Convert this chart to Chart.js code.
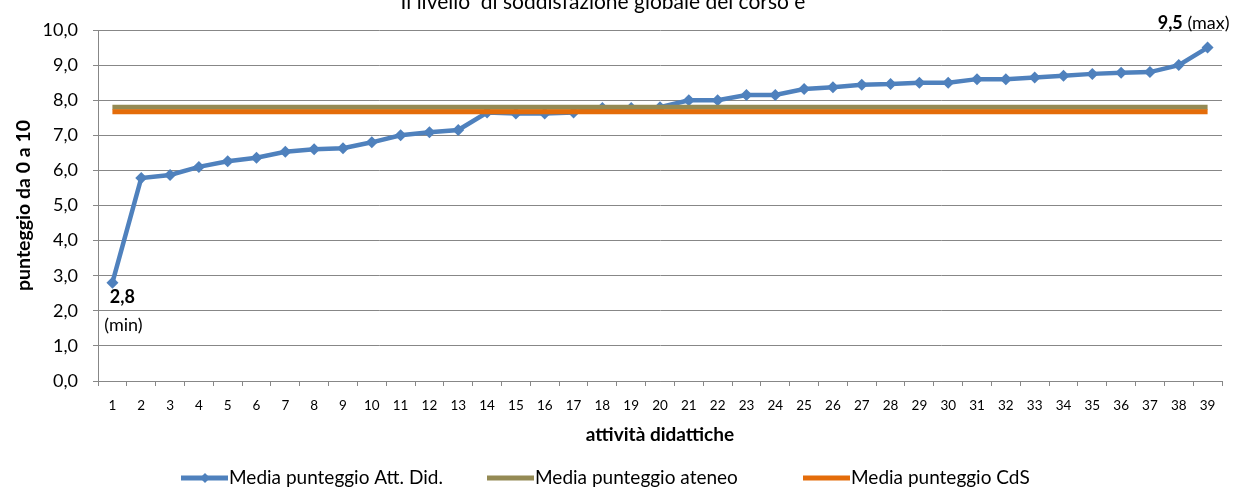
<!DOCTYPE html>
<html>
<head>
<meta charset="utf-8">
<title></title>
<style>
  html, body { margin: 0; padding: 0; background: #fff; }
  #wrap { width: 1234px; height: 497px; }
</style>
</head>
<body>
<div id="wrap">
  <canvas id="myChart"></canvas>
</div>

<script src="https://cdn.jsdelivr.net/npm/chart.js"></script>

<script>
  const attivita = ['1','2','3','4','5','6','7','8','9','10','11','12','13','14','15','16','17','18','19','20',
                    '21','22','23','24','25','26','27','28','29','30','31','32','33','34','35','36','37','38','39'];
  const mediaAttDid = [2.8, 5.78, 5.87, 6.1, 6.26, 6.36, 6.53, 6.6, 6.63, 6.8, 7.0, 7.09, 7.15, 7.65, 7.62, 7.62, 7.65,
                       7.78, 7.78, 7.8, 8.0, 8.0, 8.15, 8.15, 8.32, 8.37, 8.44, 8.46, 8.5, 8.5, 8.6, 8.6, 8.65, 8.7,
                       8.75, 8.78, 8.8, 9.0, 9.5];
  const mediaAteneo = 7.8;   // costante
  const mediaCdS = 7.67;     // costante
  const yTickLabels = ['0,0','1,0','2,0','3,0','4,0','5,0','6,0','7,0','8,0','9,0','10,0'];
  const titolo = 'Il livello  di soddisfazione globale del corso è';
  const legenda = ['Media punteggio Att. Did.', 'Media punteggio ateneo', 'Media punteggio CdS'];

  const BLUE = '#4F81BD', OLIVE = '#948A54', ORANGE = '#E46C0A', GRID = '#878787';
  const FONT = 'Lato, Calibri, sans-serif';

  const virgola = v => v.toFixed(1).replace('.', ',');

  // titolo (tagliato in alto come nell'originale), etichette min/max, legenda
  const extras = {
    id: 'extras',
    afterDraw(chart) {
      const c = chart.ctx;
      c.save();
      c.fillStyle = '#000';
      c.font = '21px ' + FONT;
      c.textAlign = 'center';
      c.textBaseline = 'alphabetic';
      c.fillText(titolo, 603, 9);

      const pts = chart.getDatasetMeta(0).data;
      const vals = chart.data.datasets[0].data;
      const iMin = vals.indexOf(Math.min(...vals));
      const iMax = vals.indexOf(Math.max(...vals));
      const pMin = pts[iMin], pMax = pts[iMax];

      c.textBaseline = 'middle';
      c.font = 'bold 18px ' + FONT;
      c.fillText(virgola(vals[iMin]), pMin.x + 10, pMin.y + 14);
      c.font = '18px ' + FONT;
      c.fillText('(min)', pMin.x + 11, pMin.y + 42);

      c.textAlign = 'left';
      c.font = 'bold 18px ' + FONT;
      const maxTxt = virgola(vals[iMax]);
      const wMax = c.measureText(maxTxt).width;
      c.font = '18px ' + FONT;
      const wTag = c.measureText(' (max)').width;
      const x0 = pMax.x + 22 - wMax - wTag;
      c.font = 'bold 18px ' + FONT;
      c.fillText(maxTxt, x0, pMax.y - 24);
      c.font = '18px ' + FONT;
      c.fillText(' (max)', x0 + wMax, pMax.y - 24);

      // legenda
      const xs = [181, 487, 803];
      const y = 478;
      c.font = '19px ' + FONT;
      c.textAlign = 'left';
      chart.data.datasets.forEach((ds, i) => {
        c.strokeStyle = ds.borderColor;
        c.lineWidth = 5;
        c.beginPath();
        c.moveTo(xs[i], y);
        c.lineTo(xs[i] + 47, y);
        c.stroke();
        if (i === 0) {
          c.fillStyle = ds.borderColor;
          c.beginPath();
          c.moveTo(xs[i] + 24, y - 5);
          c.lineTo(xs[i] + 29, y);
          c.lineTo(xs[i] + 24, y + 5);
          c.lineTo(xs[i] + 19, y);
          c.closePath();
          c.fill();
        }
        c.fillStyle = '#000';
        c.fillText(ds.label, xs[i] + 48, y);
      });
      c.restore();
    }
  };

  const ctx = document.getElementById('myChart');
  new Chart(ctx, {
    type: 'line',
    data: {
      labels: attivita,
      datasets: [{
        label: legenda[0],
        data: mediaAttDid,
        borderColor: BLUE,
        backgroundColor: BLUE,
        borderWidth: 4.5,
        pointStyle: 'rectRot',
        pointRadius: 6,
        pointBorderWidth: 0,
        tension: 0,
        order: 3
      }, {
        label: legenda[1],
        data: attivita.map(() => mediaAteneo),
        borderColor: OLIVE,
        backgroundColor: OLIVE,
        borderWidth: 5,
        pointRadius: 0,
        order: 2
      }, {
        label: legenda[2],
        data: attivita.map(() => mediaCdS),
        borderColor: ORANGE,
        backgroundColor: ORANGE,
        borderWidth: 5,
        pointRadius: 0,
        order: 1
      }]
    },
    options: {
      responsive: true,
      maintainAspectRatio: false,
      animation: false,
      devicePixelRatio: 1,
      layout: { padding: { top: 30, right: 12, bottom: 46, left: 0 } },
      plugins: {
        legend: { display: false },
        tooltip: { enabled: false }
      },
      scales: {
        x: {
          offset: true,
          grid: { offset: true, drawOnChartArea: false, drawTicks: true, tickLength: 5, color: GRID },
          border: { color: GRID, width: 1 },
          ticks: { color: '#000', font: { family: FONT, size: 13.5 }, padding: 12, maxRotation: 0, autoSkip: false },
          title: { display: true, text: 'attività didattiche', color: '#000',
                   font: { family: FONT, size: 19, weight: 'bold' }, padding: { top: 0, bottom: 5 } },
          afterFit(scale) { scale.height = 70; }
        },
        y: {
          min: 0,
          max: 10,
          ticks: { stepSize: 1, color: '#000', font: { family: FONT, size: 18 }, padding: 15,
                   callback: (v, i) => yTickLabels[i] },
          grid: { color: GRID, tickLength: 5 },
          border: { color: GRID, width: 1 },
          title: { display: true, text: 'punteggio da 0 a 10', color: '#000',
                   font: { family: FONT, size: 19.5, weight: 'bold' }, padding: { top: 12 } },
          afterFit(scale) { scale.width = 98; }
        }
      }
    },
    plugins: [extras]
  });
</script>
</body>
</html>
